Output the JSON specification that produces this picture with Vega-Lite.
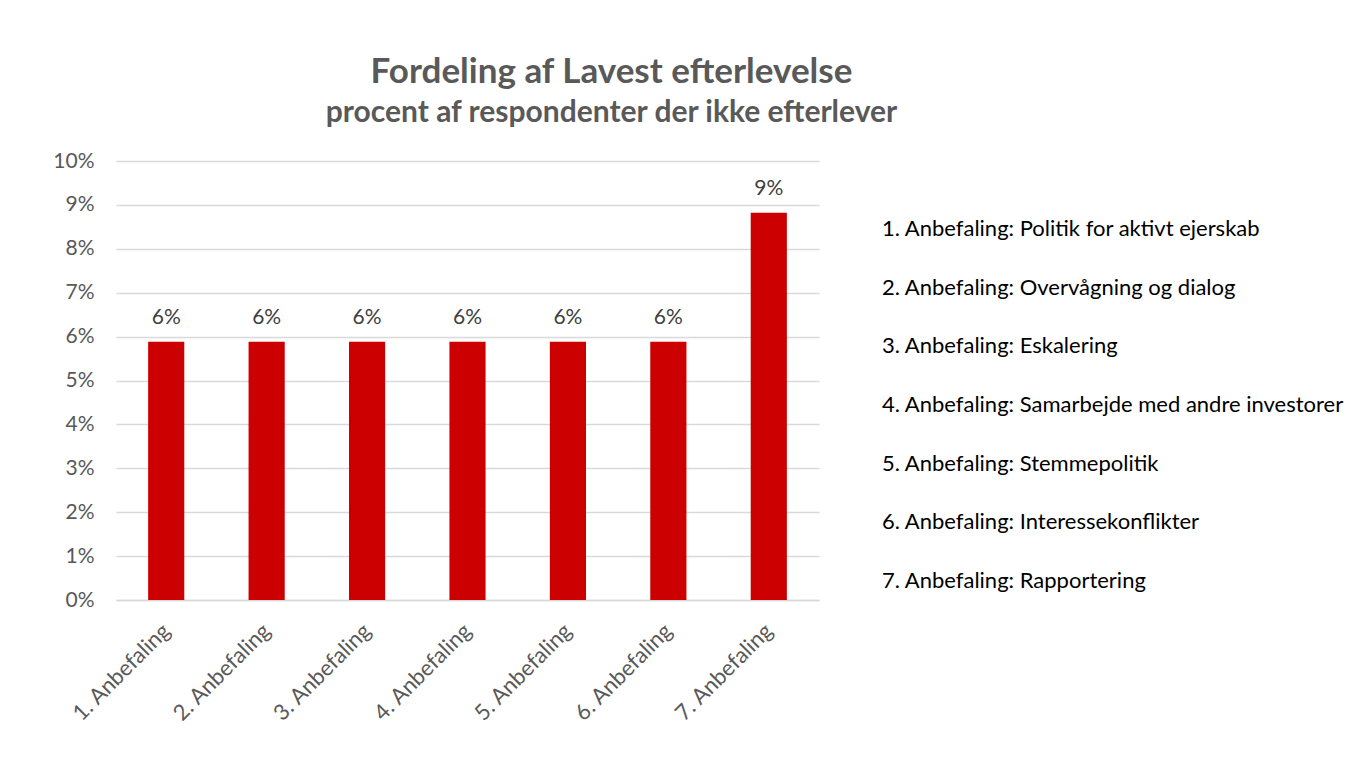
{
  "$schema": "https://vega.github.io/schema/vega-lite/v6.json",
  "autosize": {"type": "pad"},
  "padding": {"left": 52, "top": 55, "right": 4, "bottom": 10},
  "background": "white",
  "bounds": "flush",
  "spacing": 63,
  "datasets": {
    "bars": [
      {"kat": "1. Anbefaling", "andel": 0.0588},
      {"kat": "2. Anbefaling", "andel": 0.0588},
      {"kat": "3. Anbefaling", "andel": 0.0588},
      {"kat": "4. Anbefaling", "andel": 0.0588},
      {"kat": "5. Anbefaling", "andel": 0.0588},
      {"kat": "6. Anbefaling", "andel": 0.0588},
      {"kat": "7. Anbefaling", "andel": 0.0882}
    ],
    "liste": [
      {"nr": 1, "tekst": "1. Anbefaling: Politik for aktivt ejerskab"},
      {"nr": 2, "tekst": "2. Anbefaling: Overvågning og dialog"},
      {"nr": 3, "tekst": "3. Anbefaling: Eskalering"},
      {"nr": 4, "tekst": "4. Anbefaling: Samarbejde med andre investorer"},
      {"nr": 5, "tekst": "5. Anbefaling: Stemmepolitik"},
      {"nr": 6, "tekst": "6. Anbefaling: Interessekonflikter"},
      {"nr": 7, "tekst": "7. Anbefaling: Rapportering"}
    ]
  },
  "hconcat": [
    {
      "width": 703,
      "height": 439,
      "title": {
        "text": "Fordeling af Lavest efterlevelse",
        "subtitle": "procent af respondenter der ikke efterlever",
        "anchor": "middle",
        "dx": 144,
        "offset": 22,
        "font": "Lato",
        "fontSize": 35,
        "fontWeight": "bold",
        "color": "#595959",
        "subtitleFont": "Lato",
        "subtitleFontSize": 30,
        "subtitleFontWeight": "bold",
        "subtitleColor": "#595959",
        "subtitlePadding": 8
      },
      "data": {"name": "bars"},
      "encoding": {
        "x": {
          "field": "kat",
          "type": "nominal",
          "sort": null,
          "scale": {"paddingInner": 0.64, "paddingOuter": 0.32},
          "axis": {
            "title": null,
            "labelAngle": -45,
            "labelFont": "Lato",
            "labelFontSize": 22,
            "labelColor": "#595959",
            "labelPadding": 20,
            "labelOffset": -7,
            "ticks": false,
            "domainColor": "#D9D9D9",
            "domainWidth": 1.5
          }
        },
        "y": {
          "field": "andel",
          "type": "quantitative",
          "scale": {"domain": [0, 0.1], "nice": false},
          "axis": {
            "title": null,
            "format": ".0%",
            "values": [0, 0.01, 0.02, 0.03, 0.04, 0.05, 0.06, 0.07, 0.08, 0.09, 0.1],
            "labelFont": "Lato",
            "labelFontSize": 21,
            "labelColor": "#595959",
            "labelPadding": 22,
            "ticks": false,
            "domain": false,
            "gridColor": "#D9D9D9",
            "gridWidth": 1.5
          }
        }
      },
      "layer": [
        {"mark": {"type": "bar", "color": "#CC0000"}},
        {
          "mark": {
            "type": "text",
            "baseline": "bottom",
            "dy": -14,
            "font": "Lato",
            "fontSize": 21,
            "color": "#404040"
          },
          "encoding": {"text": {"field": "andel", "type": "quantitative", "format": ".0%"}}
        }
      ]
    },
    {
      "width": 470,
      "height": 488,
      "data": {"name": "liste"},
      "mark": {
        "type": "text",
        "align": "left",
        "baseline": "middle",
        "font": "Lato",
        "fontSize": 22,
        "color": "#000000"
      },
      "encoding": {
        "x": {"value": 0},
        "y": {
          "field": "nr",
          "type": "ordinal",
          "scale": {"type": "band", "paddingInner": 0, "paddingOuter": 0.66},
          "axis": null
        },
        "text": {"field": "tekst", "type": "nominal"}
      }
    }
  ],
  "config": {
    "view": {"stroke": null}
  }
}
